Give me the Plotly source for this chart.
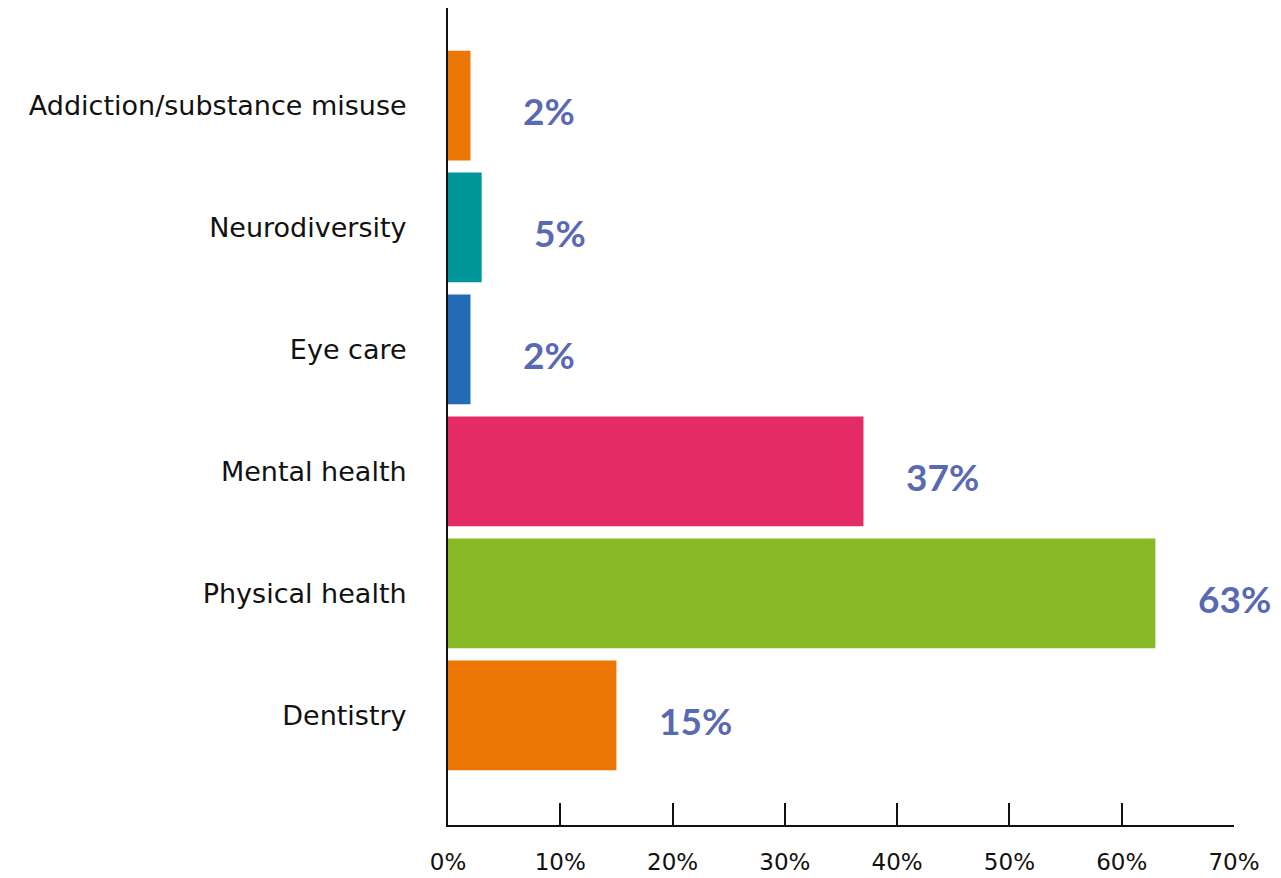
import plotly.graph_objects as go

categories = ["Dentistry", "Physical health", "Mental health", "Eye care", "Neurodiversity", "Addiction/substance misuse"]
values = [15, 63, 37, 2, 3, 2]
value_labels = ["15%", "63%", "37%", "2%", "5%", "2%"]
colors = ["#EC7705", "#89B926", "#E52A68", "#236CB5", "#009598", "#EC7705"]
x_ticks = [0, 10, 20, 30, 40, 50, 60, 70]
x_tick_labels = ["0%", "10%", "20%", "30%", "40%", "50%", "60%", "70%"]

label_offset = 7

fig = go.Figure()
fig.add_trace(go.Bar(
    y=categories, x=values, orientation="h",
    marker=dict(color=colors, line=dict(width=0)),
    hoverinfo="skip",
))

for c, v, t in zip(categories, values, value_labels):
    fig.add_annotation(
        x=v + label_offset, y=c, text=f"<b>{t}</b>", showarrow=False,
        xanchor="center", yanchor="middle", yshift=-5,
        font=dict(family="Lato", size=37, color="#5A69B3"),
    )

fig.update_layout(
    width=1281, height=878,
    margin=dict(l=448, r=47, t=8, b=53, autoexpand=False),
    paper_bgcolor="white", plot_bgcolor="white",
    bargap=0.1,
    showlegend=False,
    font=dict(family="DejaVu Sans", color="#111111"),
)
fig.update_xaxes(
    range=[0, 70], tickvals=x_ticks, ticktext=x_tick_labels,
    showgrid=False, zeroline=False, automargin=False,
    showline=True, linecolor="#111111", linewidth=2,
    ticks="inside", ticklen=22, tickwidth=2, tickcolor="#111111",
    tickfont=dict(family="DejaVu Sans", size=23, color="#111111"),
    ticklabelstandoff=15,
)
fig.update_yaxes(
    type="category", range=[-0.9, 5.8], automargin=False,
    showgrid=False, zeroline=False,
    showline=True, linecolor="#111111", linewidth=2,
    ticks="", tickfont=dict(family="DejaVu Sans", size=27, color="#111111"),
    ticklabelstandoff=34,
)

fig.write_html("out.html")
